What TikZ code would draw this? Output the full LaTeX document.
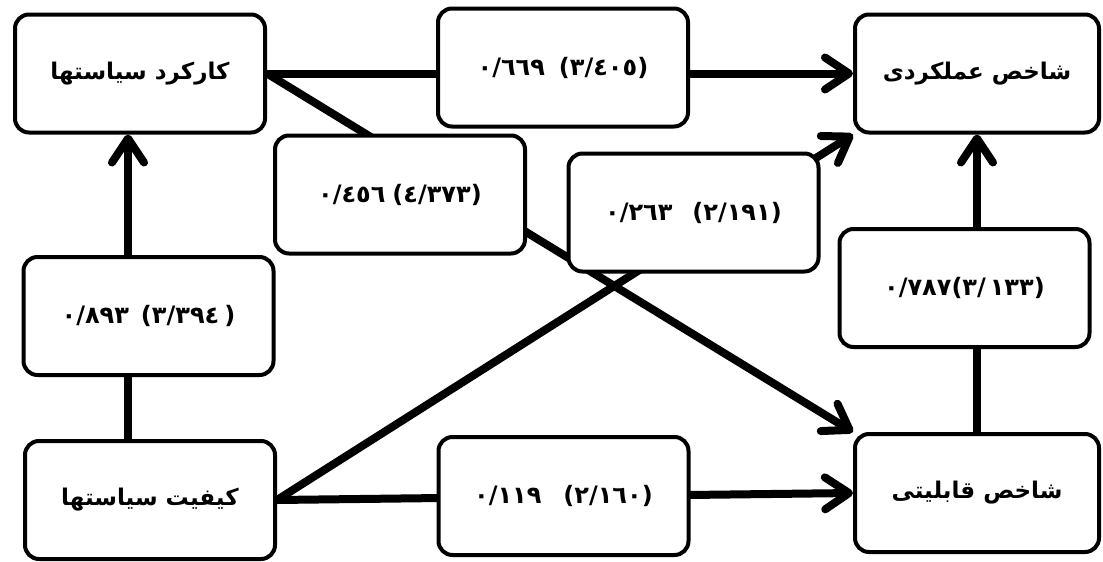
\documentclass[tikz,border=0pt]{standalone}
\usepackage{fontspec}
\newfontfamily\arabicfont[Script=Arabic]{DejaVu Sans}
\newfontfamily\signfont{DejaVu Sans}
\TeXXeTstate=1
\usetikzlibrary{arrows.meta}
% brackets and slashes set apart, so that they keep their place
\newcommand\lp{{\signfont(}}
\newcommand\rp{{\signfont)}}
\newcommand\slsh{{\signfont/}}
\begin{document}
\begin{tikzpicture}[x=1pt,y=-1pt,
    box/.style={draw, line width=4pt, rounded corners=14pt, fill=white,
      minimum width=250pt, minimum height=118pt, inner sep=0pt,
      font=\arabicfont\bfseries\fontsize{23}{26}\selectfont},
    weight/.style={box, font=\arabicfont\bfseries\fontsize{24}{26}\selectfont},
    link/.style={line width=8pt},
    arr/.style={link, -{Straight Barb[length=24pt,width=32pt,round]}}]
  \fill[white] (0,0) rectangle (1103,562);
  \useasboundingbox (0,0) rectangle (1103,562);

  % variables
  \node[box] (kar) at (140,73.5) {\beginR کارکرد سیاستها\endR};
  \node[box, minimum width=244pt] (amal) at (977,73.5) {\beginR شاخص عملکردی\endR};
  \node[box] (kif) at (150,500) {\beginR کیفیت سیاستها\endR};
  \node[box, minimum width=244pt] (qab) at (977,493) {\beginR شاخص قابلیتی\endR};

  % paths
  \draw[arr] (kar.east) -- (amal.west);
  \draw[arr] (kar.east) -- (qab.north west);
  \draw[arr] (kif.east) -- (amal.south west);
  \draw[arr] (kif.east) -- (qab.west);
  \draw[arr] ([xshift=-12pt]kar.south |- kif.north) -- ([xshift=-12pt]kar.south);
  \draw[arr] (qab.north) -- (amal.south);

  % weights on the paths
  \node[weight] (w1) at (563,67.5) {٠/٦٦٩\hspace{14pt}\lp٣/٤٠٥\rp};
  \node[weight] (w2) at (400,194.5) {٠/٤٥٦\hspace{7pt}\lp٤/٣٧٣\rp};
  \node[weight] (w3) at (693.5,212.5) {٠/٢٦٣\hspace{20pt}\lp٢/١٩١\rp};
  \node[weight] (w4) at (148.5,316) {٠/٨٩٣\hspace{12pt}\lp٣/٣٩٤\hspace{5pt}\rp};
  \node[weight] (w5) at (964.5,288) {٠/٧٨٧\lp٣\slsh\hspace{4pt}١٣٣\rp};
  \node[weight] (w6) at (563.5,496) {٠/١١٩\hspace{22pt}\lp٢/١٦٠\rp};
\end{tikzpicture}
\end{document}
